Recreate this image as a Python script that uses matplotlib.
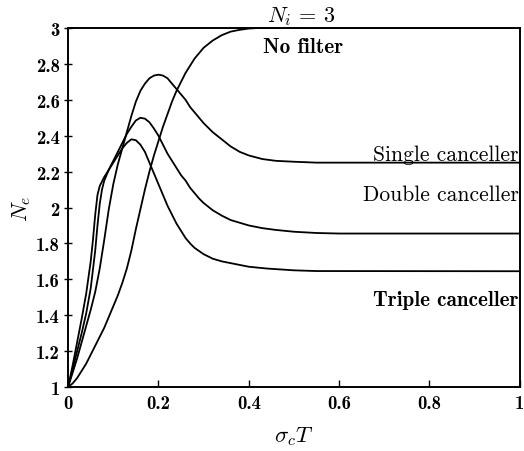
import matplotlib
matplotlib.use("Agg")
import matplotlib.pyplot as plt

plt.rcParams['mathtext.fontset'] = 'cm'
plt.rcParams['axes.unicode_minus'] = False

# curves
x_none = [0, 0.01, 0.02, 0.03, 0.04, 0.05, 0.06, 0.07, 0.08, 0.09, 0.1, 0.11, 0.12,
          0.13, 0.14, 0.15, 0.16, 0.17, 0.18, 0.19, 0.2, 0.21, 0.22, 0.23, 0.24, 0.25,
          0.26, 0.27, 0.28, 0.3, 0.32, 0.34, 0.36, 0.38, 0.4, 0.42, 1.0]
y_none = [1.0, 1.02, 1.05, 1.09, 1.13, 1.18, 1.23, 1.28, 1.33, 1.39, 1.45, 1.51, 1.58,
          1.66, 1.76, 1.88, 1.99, 2.1, 2.2, 2.29, 2.37, 2.45, 2.52, 2.59, 2.65, 2.7,
          2.75, 2.79, 2.83, 2.89, 2.93, 2.96, 2.98, 2.99, 2.997, 3.0, 3.0]

x_single = [0, 0.01, 0.02, 0.03, 0.04, 0.05, 0.06, 0.07, 0.08, 0.09, 0.1, 0.11, 0.12,
            0.13, 0.14, 0.15, 0.16, 0.17, 0.18, 0.19, 0.2, 0.21, 0.22, 0.23, 0.24, 0.25,
            0.26, 0.27, 0.28, 0.29, 0.3, 0.32, 0.34, 0.36, 0.38, 0.4, 0.43, 0.46, 0.5,
            0.55, 1.0]
y_single = [1.0, 1.08, 1.16, 1.25, 1.34, 1.43, 1.53, 1.66, 1.82, 1.99, 2.13, 2.24, 2.33,
            2.42, 2.51, 2.59, 2.65, 2.69, 2.72, 2.735, 2.74, 2.735, 2.72, 2.69, 2.66, 2.63,
            2.6, 2.56, 2.53, 2.5, 2.47, 2.42, 2.38, 2.34, 2.31, 2.29, 2.27, 2.26, 2.255,
            2.25, 2.25]

x_double = [0, 0.01, 0.02, 0.03, 0.04, 0.05, 0.06, 0.065, 0.07, 0.075, 0.08, 0.09, 0.1,
            0.11, 0.12, 0.13, 0.14, 0.15, 0.16, 0.17, 0.18, 0.19, 0.2, 0.21, 0.22, 0.23,
            0.24, 0.25, 0.26, 0.27, 0.28, 0.29, 0.3, 0.32, 0.34, 0.36, 0.38, 0.4, 0.43,
            0.46, 0.5, 0.55, 0.6, 1.0]
y_double = [1.0, 1.1, 1.2, 1.3, 1.41, 1.55, 1.76, 1.9, 2.02, 2.1, 2.15, 2.21, 2.26,
            2.31, 2.36, 2.41, 2.45, 2.485, 2.5, 2.495, 2.475, 2.44, 2.4, 2.35, 2.3, 2.26,
            2.22, 2.18, 2.15, 2.11, 2.08, 2.05, 2.025, 1.985, 1.955, 1.93, 1.915, 1.9, 1.885,
            1.875, 1.865, 1.858, 1.855, 1.855]

x_triple = [0, 0.01, 0.02, 0.03, 0.04, 0.05, 0.055, 0.06, 0.065, 0.07, 0.08, 0.09, 0.1,
            0.11, 0.12, 0.13, 0.14, 0.15, 0.16, 0.17, 0.18, 0.19, 0.2, 0.21, 0.22, 0.23,
            0.24, 0.25, 0.26, 0.27, 0.28, 0.3, 0.32, 0.34, 0.36, 0.38, 0.4, 0.44, 0.5,
            0.55, 1.0]
y_triple = [1.0, 1.12, 1.25, 1.38, 1.52, 1.7, 1.82, 1.96, 2.07, 2.12, 2.17, 2.21, 2.25,
            2.29, 2.33, 2.36, 2.38, 2.375, 2.35, 2.31, 2.25, 2.19, 2.13, 2.07, 2.01, 1.96,
            1.91, 1.87, 1.83, 1.8, 1.775, 1.74, 1.715, 1.7, 1.69, 1.68, 1.67, 1.66, 1.65,
            1.646, 1.645]

xticks = [0, 0.2, 0.4, 0.6, 0.8, 1]
xtick_labels = ['0', '0.2', '0.4', '0.6', '0.8', '1']
yticks = [1, 1.2, 1.4, 1.6, 1.8, 2, 2.2, 2.4, 2.6, 2.8, 3]
ytick_labels = ['1', '1.2', '1.4', '1.6', '1.8', '2', '2.2', '2.4', '2.6', '2.8', '3']

fig = plt.figure(figsize=(5.24, 4.52), dpi=100)
ax = fig.add_axes([0.13, 0.1416, 0.862, 0.7942])

for xs, ys in [(x_none, y_none), (x_single, y_single), (x_double, y_double), (x_triple, y_triple)]:
    ax.plot(xs, ys, color='black', lw=1.3)

ax.set_xlim(0, 1)
ax.set_ylim(1, 3)
ax.set_xticks(xticks)
ax.set_xticklabels(xtick_labels, family='cmb10', fontsize=13.5)
ax.set_yticks(yticks)
ax.set_yticklabels(ytick_labels, family='cmb10', fontsize=13.5)
ax.tick_params(axis='x', direction='in', length=5, width=1, pad=5)
ax.tick_params(axis='y', direction='inout', length=6, width=1, pad=3)
for s in ax.spines.values():
    s.set_linewidth(1.4)

ax.set_xlabel(r'$\sigma_c T$', fontsize=16.5, labelpad=9)
ax.set_ylabel(r'$N_e$', fontsize=16, labelpad=2)
ax.set_title(r'$N_i\, =\, 3$', fontsize=16, pad=5, x=0.515)

ax.text(0.431, 2.895, 'No filter', family='cmb10', fontsize=15.3, ha='left', va='center')
ax.text(0.997, 2.295, 'Single canceller', family='cmr10', fontsize=15.5, ha='right', va='center')
ax.text(0.997, 2.075, 'Double canceller', family='cmr10', fontsize=15.5, ha='right', va='center')
ax.text(0.997, 1.49, 'Triple canceller', family='cmb10', fontsize=15.2, ha='right', va='center')

fig.savefig('out.png', dpi=100)
